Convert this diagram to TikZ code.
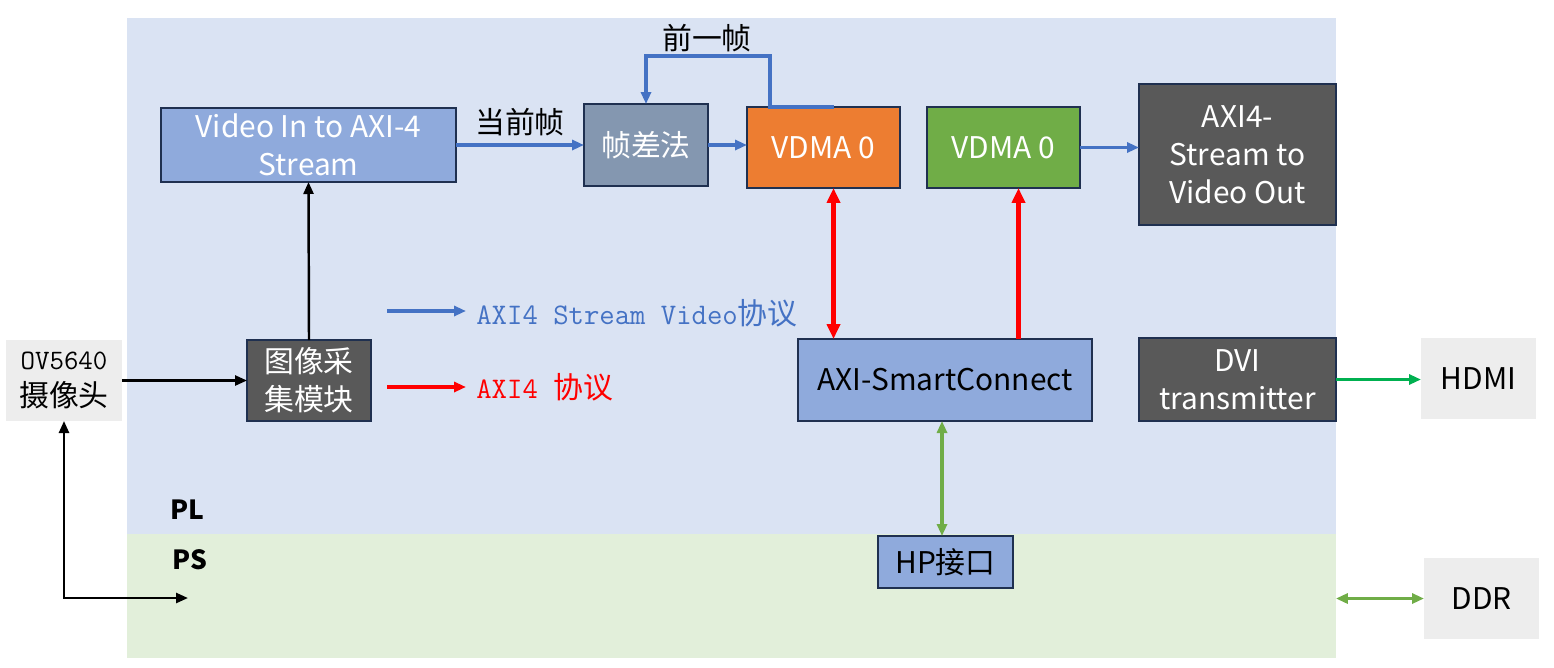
\documentclass[tikz,border=0pt]{standalone}
\usepackage{fontspec}
\setmainfont{Noto Sans CJK SC}
\usetikzlibrary{arrows.meta}

\definecolor{plbg}{HTML}{DAE3F3}
\definecolor{psbg}{HTML}{E2EFDA}
\definecolor{boxedge}{HTML}{1F3050}
\definecolor{boxblue}{HTML}{8FAADC}
\definecolor{boxslate}{HTML}{8497B0}
\definecolor{boxorange}{HTML}{ED7D31}
\definecolor{boxgreen}{HTML}{70AD47}
\definecolor{boxdark}{HTML}{595959}
\definecolor{boxgrey}{HTML}{EDEDED}
\definecolor{lineblue}{HTML}{4472C4}
\definecolor{linegreen}{HTML}{70AD47}
\definecolor{hdmigreen}{HTML}{00B050}

\tikzset{
  >={Triangle[length=2.4mm,width=2mm]},
  blk/.style={draw=boxedge, line width=1.1pt, inner sep=0pt, outer sep=0pt, align=center,
              font=\fontsize{17}{21.5}\selectfont},
  io/.style={fill=boxgrey, inner sep=0pt, outer sep=0pt, align=center,
             font=\fontsize{17}{21.5}\selectfont},
  bluearr/.style={draw=lineblue, line width=2pt, ->},
  redarr/.style={draw=red, line width=2.3pt, >={Triangle[length=3mm,width=2.6mm]}},
  greenarr/.style={draw=linegreen, line width=2pt, <->},
  blackarr/.style={draw=black, line width=1.4pt, ->},
}

\begin{document}
\begin{tikzpicture}[x=0.02cm, y=-0.02cm]

    \useasboundingbox (0,0) rectangle (1554,667);

    % PL / PS areas
    \node (plarea) at (731.5,276) [fill=plbg, minimum width=24.18cm, minimum height=10.32cm, inner sep=0pt, outer sep=0pt] {};
    \node (psarea) at (731.5,596) [fill=psbg, minimum width=24.18cm, minimum height=2.48cm, inner sep=0pt, outer sep=0pt] {};
    \node (pltag) at (187,510) [font=\fontsize{15}{18}\selectfont\bfseries] {PL};
    \node (pstag) at (190,560) [font=\fontsize{15}{18}\selectfont\bfseries] {PS};

    % top row
    \node (vin)  at (308.5,145) [blk, fill=boxblue, text=white, minimum width=5.9cm, minimum height=1.48cm] {Video In to AXI-4\\Stream};
    \node (diff) at (646,145) [blk, fill=boxslate, text=white, minimum width=2.48cm, minimum height=1.64cm] {帧差法};
    \node (vdmaA) at (823.5,147.5) [blk, fill=boxorange, text=white, minimum width=3.06cm, minimum height=1.62cm] {VDMA 0};
    \node (vdmaB) at (1003.5,147.5) [blk, fill=boxgreen, text=white, minimum width=3.06cm, minimum height=1.62cm] {VDMA 0};
    \node (vout) at (1237.5,154.5) [blk, fill=boxdark, text=white, minimum width=3.94cm, minimum height=2.82cm] {AXI4-\\Stream to\\Video Out};

    % middle row
    \node (cam) at (64,380.5) [io, minimum width=2.32cm, minimum height=1.62cm] {{\ttfamily\fontsize{16}{20}\selectfont OV5640}\\摄像头};
    \node (grab) at (309,380.5) [blk, fill=boxdark, text=white, minimum width=2.48cm, minimum height=1.62cm] {图像采\\集模块};
    \node (smc) at (945,380) [blk, fill=boxblue, minimum width=5.88cm, minimum height=1.64cm] {AXI-SmartConnect};
    \node (dvi) at (1237.5,379.5) [blk, fill=boxdark, text=white, minimum width=3.94cm, minimum height=1.66cm] {DVI\\transmitter};
    \node (hdmi) at (1478.5,378.5) [io, minimum width=2.3cm, minimum height=1.62cm] {HDMI};

    % PS row
    \node (hp)  at (945.5,562) [blk, fill=boxblue, minimum width=2.7cm, minimum height=1.04cm] {HP接口};
    \node (ddr) at (1481.5,598.5) [io, minimum width=2.3cm, minimum height=1.62cm] {DDR};

    % key
    \coordinate (keyA) at (387,311);
    \coordinate (keyB) at (387,387);
    \node (keyAtxt) at (466,313) [anchor=west, inner sep=0.2cm, text=lineblue, font=\fontsize{17}{20}\selectfont] {{\ttfamily AXI4 Stream Video}协议};
    \node (keyBtxt) at (466,387) [anchor=west, inner sep=0.2cm, text=red, font=\fontsize{17}{20}\selectfont] {{\ttfamily AXI4 }协议};
    \draw[bluearr] (keyA) -- (keyA -| keyAtxt.west);
    \draw[redarr, ->, line width=2pt, >={Triangle[length=2.4mm,width=2mm]}] (keyB) -- (keyB -| keyBtxt.west);

    % stream path
    \draw[bluearr] (vin.east) -- (vin.east -| diff.west) node (curtag) [midway, above, text=black, font=\fontsize{17}{20}\selectfont, yshift=1pt] {当前帧};
    \draw[bluearr] (diff.east) -- (diff.east -| vdmaA.west);
    \draw[bluearr] ([xshift=0.2cm]vdmaA.north) -- ([xshift=-1.07cm]vdmaA.north) -- ++(0,-51) -| (diff.north);
    \node (prevtag) at (707,38) [font=\fontsize{17}{20}\selectfont] {前一帧};
    \draw[bluearr] (vdmaB.east) -- (vdmaB.east -| vout.west);

    % memory path
    \draw[redarr, <->] ([xshift=0.2cm]vdmaA.south) -- ([xshift=0.2cm]vdmaA.south |- smc.north);
    \draw[redarr, ->] ([xshift=0.3cm]vdmaB.south |- smc.north) -- ([xshift=0.3cm]vdmaB.south);
    \draw[greenarr] ([xshift=-0.06cm]smc.south) -- ([xshift=-0.06cm]smc.south |- hp.north);
    \draw[greenarr] (psarea.east |- ddr.west) -- (ddr.west);

    % camera / output
    \coordinate (camturn) at (64,598);
    \coordinate (camps) at (188,598);
    \draw[blackarr] (cam.east) -- (cam.east -| grab.west);
    \draw[blackarr] (grab.north) -- (vin.south);
    \draw[blackarr, <->] (cam.south) -- (camturn) -- (camps);
    \draw[draw=hdmigreen, line width=2pt, ->] (dvi.east) -- (dvi.east -| hdmi.west);

\end{tikzpicture}
\end{document}
